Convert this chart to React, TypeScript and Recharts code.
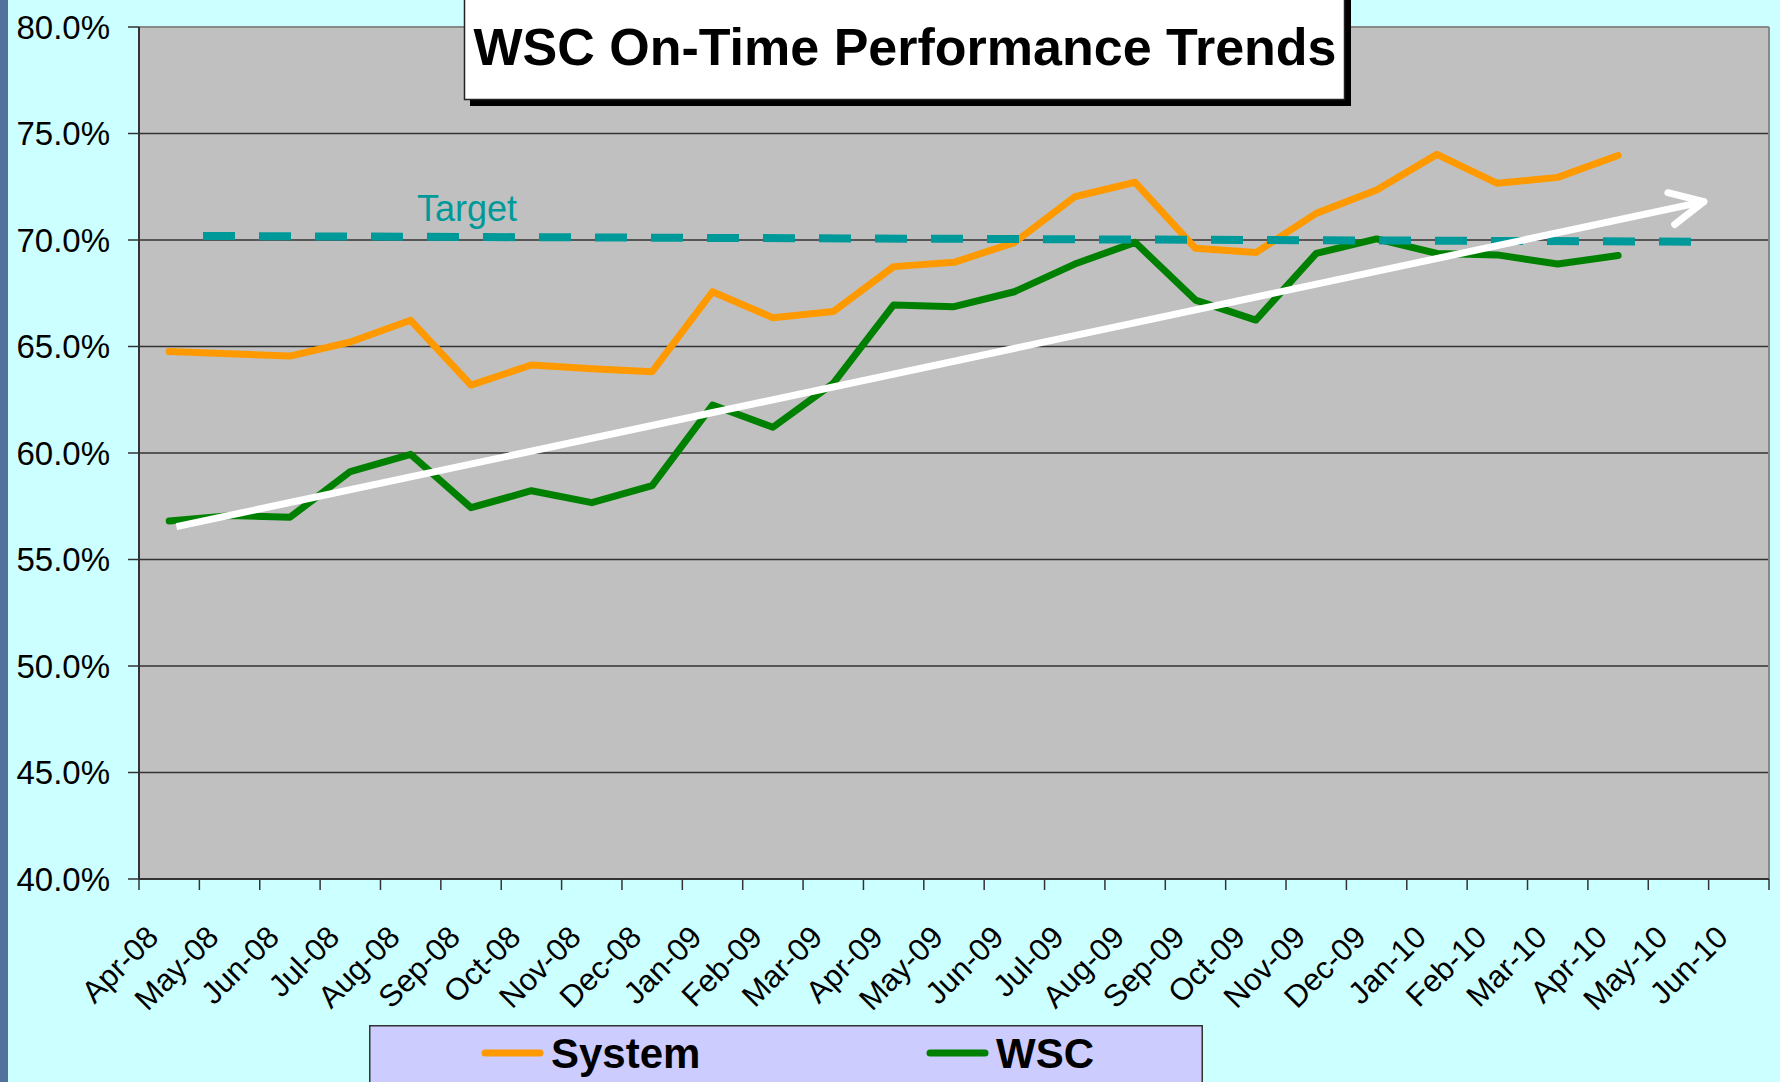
import React from 'react';
import { LineChart, Line, XAxis, YAxis, CartesianGrid, ReferenceLine, Legend } from 'recharts';

// ---------- data ----------
const months = [
  'Apr-08', 'May-08', 'Jun-08', 'Jul-08', 'Aug-08', 'Sep-08', 'Oct-08', 'Nov-08', 'Dec-08',
  'Jan-09', 'Feb-09', 'Mar-09', 'Apr-09', 'May-09', 'Jun-09', 'Jul-09', 'Aug-09', 'Sep-09',
  'Oct-09', 'Nov-09', 'Dec-09', 'Jan-10', 'Feb-10', 'Mar-10', 'Apr-10', 'May-10', 'Jun-10',
];
const systemPct = [
  64.76, 64.66, 64.55, 65.21, 66.23, 63.19, 64.13, 63.96, 63.82,
  67.57, 66.35, 66.64, 68.75, 68.95, 69.88, 72.03, 72.71, 69.61,
  69.41, 71.25, 72.35, 74.02, 72.66, 72.94, 73.97, null, null,
];
const wscPct = [
  56.81, 57.06, 56.98, 59.13, 59.94, 57.43, 58.23, 57.67, 58.47,
  62.25, 61.21, 63.27, 66.95, 66.87, 67.57, 68.87, 69.89, 67.18,
  66.24, 69.37, 70.05, 69.37, 69.3, 68.87, 69.27, null, null,
];
const yTicks = [40, 45, 50, 55, 60, 65, 70, 75, 80];
// annotations, in (month-slot position, percent)
const targetStart = { x: 1.06, y: 70.19 };
const targetEnd = { x: 25.86, y: 69.92 };
const trendStart = { x: 0.62, y: 56.54 };
const trendEnd = { x: 25.92, y: 71.8 };
const titleText = 'WSC On-Time Performance Trends';
const targetLabel = 'Target';

// slot = centre of each month's slot on a 0..N scale (used by the annotation axis)
const data = months.map((m, i) => ({ month: m, slot: i + 0.5, System: systemPct[i], WSC: wscPct[i] }));

// ---------- layout ----------
const W = 1780;
const H = 1082;
const PLOT_L = 139;
const PLOT_R = 1769;
const PLOT_T = 27;
const PLOT_B = 879;
const BAND = (PLOT_R - PLOT_L) / months.length;
const FONT = '"Liberation Sans", Arial, Helvetica, sans-serif';

const XTick = (props: any) => {
  const { x, y, payload, index } = props;
  const half = BAND / 2;
  const ax = x - 9;
  const ay = y + 60;
  return (
    <g>
      <line x1={x - half} x2={x - half} y1={y} y2={y + 11} stroke="#333" strokeWidth={1.5} />
      {index === months.length - 1 ? (
        <line x1={x + half} x2={x + half} y1={y} y2={y + 11} stroke="#333" strokeWidth={1.5} />
      ) : null}
      <text
        x={ax}
        y={ay}
        textAnchor="end"
        transform={`rotate(-45 ${ax} ${ay})`}
        fontFamily={FONT}
        fontSize={31}
        fill="#000"
      >
        {payload.value}
      </text>
    </g>
  );
};

const ArrowShape = (props: any) => {
  const x1 = Number(props.x1);
  const y1 = Number(props.y1);
  const x2 = Number(props.x2);
  const y2 = Number(props.y2);
  const ang = Math.atan2(y2 - y1, x2 - x1);
  const len = 37;
  const spread = (26 * Math.PI) / 180;
  const a1 = ang + Math.PI - spread;
  const a2 = ang + Math.PI + spread;
  return (
    <g>
      <line x1={x1} y1={y1} x2={x2} y2={y2} stroke="#fff" strokeWidth={7} />
      <line x1={x2} y1={y2} x2={x2 + len * Math.cos(a1)} y2={y2 + len * Math.sin(a1)} stroke="#fff" strokeWidth={7} strokeLinecap="round" />
      <line x1={x2} y1={y2} x2={x2 + len * Math.cos(a2)} y2={y2 + len * Math.sin(a2)} stroke="#fff" strokeWidth={7} strokeLinecap="round" />
    </g>
  );
};

const LEGEND_SWATCH_X = [116, 561];
const LegendBox = (props: any) => {
  const items = (props.payload || []) as any[];
  return (
    <svg width={834} height={57} style={{ display: 'block' }}>
      <rect x={0.75} y={0.75} width={832.5} height={90} fill="#CCCCFF" stroke="#333" strokeWidth={1.5} />
      {items.map((it: any, i: number) => {
        const sx = LEGEND_SWATCH_X[i] ?? 116 + i * 445;
        return (
          <g key={String(it.value)}>
            <line x1={sx} x2={sx + 55} y1={28} y2={28} stroke={it.color} strokeWidth={7} strokeLinecap="round" />
            <text x={sx + 66} y={43} fontFamily={FONT} fontWeight="bold" fontSize={42} fill="#000">
              {it.value}
            </text>
          </g>
        );
      })}
    </svg>
  );
};

export default function App() {
  return (
    <div
      style={{
        position: 'absolute',
        left: 0,
        top: 0,
        width: W,
        height: H,
        overflow: 'hidden',
        background: '#CCFFFF',
        fontFamily: FONT,
      }}
    >
      <LineChart width={W} height={H} data={data} margin={{ top: PLOT_T, right: W - PLOT_R, bottom: 0, left: 0 }}>
        <CartesianGrid xAxisId="cat" vertical={false} stroke="#333" strokeWidth={1.5} fill="#C0C0C0" fillOpacity={1} />
        <XAxis
          xAxisId="cat"
          dataKey="month"
          type="category"
          interval={0}
          padding={{ left: BAND / 2, right: BAND / 2 }}
          height={H - PLOT_B}
          tickSize={0}
          tickMargin={0}
          tickLine={false}
          axisLine={{ stroke: '#333', strokeWidth: 2 }}
          tick={<XTick />}
        />
        <XAxis
          xAxisId="num"
          dataKey="slot"
          type="number"
          domain={[0, months.length]}
          allowDataOverflow
          hide
        />
        <YAxis
          domain={[40, 80]}
          ticks={yTicks}
          interval={0}
          allowDataOverflow
          width={PLOT_L}
          tickSize={11}
          tickMargin={18}
          axisLine={{ stroke: '#333', strokeWidth: 2 }}
          tickLine={{ stroke: '#333', strokeWidth: 1.5 }}
          tick={{ fill: '#000', fontSize: 33, fontFamily: FONT }}
          tickFormatter={(v: number) => `${v.toFixed(1)}%`}
        />
        <Line
          xAxisId="cat"
          type="linear"
          dataKey="System"
          name="System"
          stroke="#FF9900"
          strokeWidth={7}
          strokeLinecap="round"
          strokeLinejoin="round"
          dot={false}
          activeDot={false}
          isAnimationActive={false}
        />
        <Line
          xAxisId="cat"
          type="linear"
          dataKey="WSC"
          name="WSC"
          stroke="#008000"
          strokeWidth={7}
          strokeLinecap="round"
          strokeLinejoin="round"
          dot={false}
          activeDot={false}
          isAnimationActive={false}
        />
        <ReferenceLine xAxisId="num" y={80} stroke="#888" strokeWidth={2} />
        <ReferenceLine xAxisId="num" x={months.length} stroke="#888" strokeWidth={2} />
        <ReferenceLine
          xAxisId="num"
          segment={[targetStart, targetEnd]}
          stroke="#009999"
          strokeWidth={8}
          strokeDasharray="32 24"
        />
        <ReferenceLine xAxisId="num" segment={[trendStart, trendEnd]} stroke="#fff" strokeWidth={7} shape={ArrowShape} />
        <Legend
          layout="vertical"
          align="center"
          verticalAlign="middle"
          wrapperStyle={{ position: 'absolute', left: 369, top: 1025, width: 834, height: 57 }}
          content={<LegendBox />}
        />
      </LineChart>
      <div style={{ position: 'absolute', left: 0, top: 0, width: 8, height: H, background: '#52729b' }} />
      <svg
        width={W}
        height={H}
        style={{ position: 'absolute', left: 0, top: 0, pointerEvents: 'none' }}
      >
        <text x={417} y={221} fontFamily={FONT} fontSize={36} fill="#009999">
          {targetLabel}
        </text>
        <rect x={470} y={-10} width={881} height={116} fill="#000" />
        <rect x={464.5} y={-10} width={880} height={109.5} fill="#fff" stroke="#222" strokeWidth={1.5} />
        <text x={905} y={65} textAnchor="middle" fontFamily={FONT} fontWeight="bold" fontSize={52} fill="#000">
          {titleText}
        </text>
      </svg>
    </div>
  );
}
